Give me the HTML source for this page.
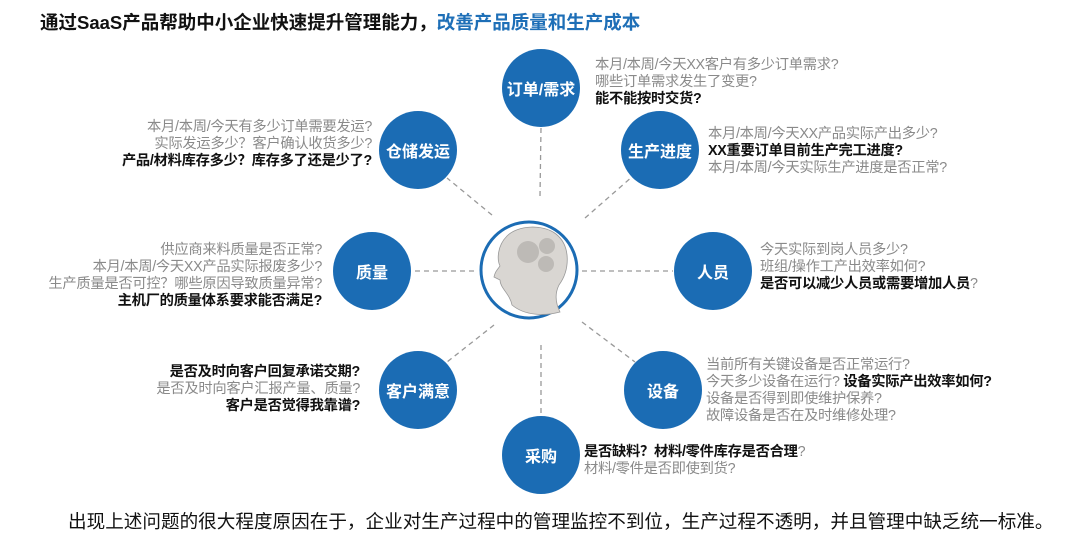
<!DOCTYPE html>
<html><head><meta charset="utf-8"><style>
body{margin:0;width:1080px;height:532px;background:#fff;position:relative;overflow:hidden;font-family:"Liberation Sans","Noto Sans CJK SC",sans-serif}
.t{position:absolute;font-size:14.3px;line-height:17px;color:#8a8a8a;white-space:nowrap;letter-spacing:-0.3px}
.r{text-align:right}
.b{color:#111;font-weight:bold}
.c{position:absolute;width:78px;height:78px;border-radius:50%;background:#1b6cb4;color:#fff;font-weight:bold;font-size:16px;display:flex;align-items:center;justify-content:center;white-space:nowrap}
</style></head><body>
<div style="position:absolute;left:40px;top:9px;font-size:18.5px;font-weight:bold;color:#111;white-space:nowrap">通过SaaS产品帮助中小企业快速提升管理能力，<span style="color:#1e6fb7">改善产品质量和生产成本</span></div>
<svg width="1080" height="532" style="position:absolute;left:0;top:0">
<g stroke="#999" stroke-width="1.3" stroke-dasharray="5,4" fill="none">
<line x1="540" y1="196" x2="541" y2="128"/>
<line x1="492" y1="215" x2="447" y2="178"/>
<line x1="585" y1="218" x2="633" y2="176"/>
<line x1="474" y1="271" x2="412" y2="271"/>
<line x1="582" y1="271" x2="673" y2="271"/>
<line x1="494" y1="325" x2="447" y2="362"/>
<line x1="582" y1="322" x2="635" y2="362"/>
<line x1="541" y1="345" x2="541" y2="416"/>
</g>
<circle cx="529" cy="270" r="48" fill="#fff" stroke="#1b6cb4" stroke-width="3"/>
<path d="M512 305 C510 294 500 288 500 280 L494 277 C495 272 497 270 500 266 C497 260 497 246 507 236 C518 225 543 224 556 234 C571 246 570 270 559 285 C555 293 555 302 560 312 C545 316 525 316 512 305 Z" fill="#d9d6d2" stroke="#999" stroke-width="0.8"/>
<circle cx="528" cy="252" r="11" fill="#bdbab6"/>
<circle cx="547" cy="246" r="8" fill="#bdbab6"/>
<circle cx="546" cy="264" r="8" fill="#bdbab6"/>
</svg>
<div class="c" style="left:502px;top:49px">订单/需求</div>
<div class="c" style="left:379px;top:111px">仓储发运</div>
<div class="c" style="left:621px;top:111px">生产进度</div>
<div class="c" style="left:333px;top:232px">质量</div>
<div class="c" style="left:674px;top:232px">人员</div>
<div class="c" style="left:379px;top:351px">客户满意</div>
<div class="c" style="left:624px;top:351px">设备</div>
<div class="c" style="left:502px;top:416px">采购</div>

<div class="t" style="left:595px;top:57px">本月/本周/今天XX客户有多少订单需求?<br>哪些订单需求发生了变更?<br><span class="b">能不能按时交货?</span></div>
<div class="t r" style="right:708px;top:119px">本月/本周/今天有多少订单需要发运?<br>实际发运多少？客户确认收货多少?<br><span class="b">产品/材料库存多少？库存多了还是少了?</span></div>
<div class="t" style="left:708px;top:126px">本月/本周/今天XX产品实际产出多少?<br><span class="b">XX重要订单目前生产完工进度?</span><br>本月/本周/今天实际生产进度是否正常?</div>
<div class="t r" style="right:758px;top:242px">供应商来料质量是否正常?<br>本月/本周/今天XX产品实际报废多少?<br>生产质量是否可控？哪些原因导致质量异常?<br><span class="b">主机厂的质量体系要求能否满足?</span></div>
<div class="t" style="left:760px;top:242px">今天实际到岗人员多少?<br>班组/操作工产出效率如何?<br><span class="b">是否可以减少人员或需要增加人员</span>?</div>
<div class="t r" style="right:720px;top:364px"><span class="b">是否及时向客户回复承诺交期?</span><br>是否及时向客户汇报产量、质量?<br><span class="b">客户是否觉得我靠谱?</span></div>
<div class="t" style="left:706px;top:357px">当前所有关键设备是否正常运行?<br>今天多少设备在运行? <span class="b">设备实际产出效率如何?</span><br>设备是否得到即使维护保养?<br>故障设备是否在及时维修处理?</div>
<div class="t" style="left:584px;top:444px"><span class="b">是否缺料？材料/零件库存是否合理</span>?<br>材料/零件是否即使到货?</div>
<div style="position:absolute;left:68px;top:507px;font-size:18.6px;color:#111;white-space:nowrap">出现上述问题的很大程度原因在于，企业对生产过程中的管理监控不到位，生产过程不透明，并且管理中缺乏统一标准。</div>
</body></html>
